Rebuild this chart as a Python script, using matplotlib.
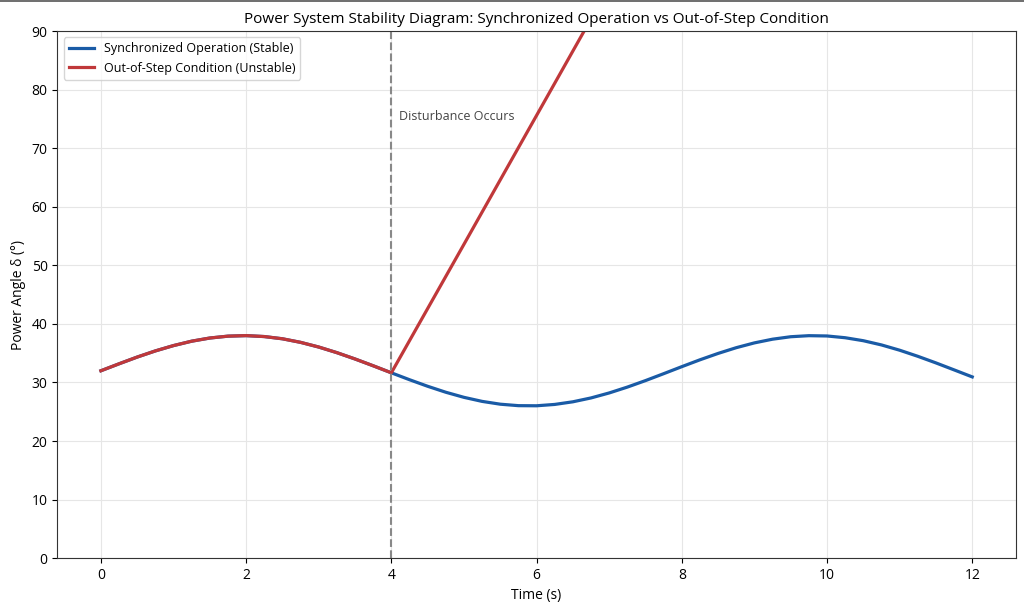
import matplotlib
matplotlib.use("Agg")
import matplotlib.pyplot as plt
from matplotlib.lines import Line2D

plt.rcParams['font.family'] = ['Open Sans', 'DejaVu Sans']

# time axis (s), every 0.25 s
t = [0.0, 0.25, 0.5, 0.75, 1.0, 1.25, 1.5, 1.75, 2.0, 2.25, 2.5, 2.75,
     3.0, 3.25, 3.5, 3.75, 4.0, 4.25, 4.5, 4.75, 5.0, 5.25, 5.5, 5.75,
     6.0, 6.25, 6.5, 6.75, 7.0, 7.25, 7.5, 7.75, 8.0, 8.25, 8.5, 8.75,
     9.0, 9.25, 9.5, 9.75, 10.0, 10.25, 10.5, 10.75, 11.0, 11.25, 11.5,
     11.75, 12.0]
stable = [32.00, 33.19, 34.34, 35.39, 36.30, 37.05, 37.59, 37.91, 38.00,
          37.84, 37.46, 36.85, 36.05, 35.09, 34.01, 32.85, 31.65, 30.47,
          29.35, 28.33, 27.46, 26.77, 26.29, 26.04, 26.02, 26.25, 26.70,
          27.36, 28.21, 29.21, 30.32, 31.50, 32.70, 33.87, 34.96, 35.94,
          36.76, 37.39, 37.81, 37.99, 37.94, 37.64, 37.13, 36.41, 35.51,
          34.47, 33.34, 32.15, 30.95]

# unstable case: same as stable until the disturbance, then runs away
t_unstable = t[:17] + [5.0, 6.0, 7.0, 8.0]
unstable = stable[:17] + [53.6, 75.6, 97.6, 119.6]

t_disturb = 4
label_stable = 'Synchronized Operation (Stable)'
label_unstable = 'Out-of-Step Condition (Unstable)'

fig, ax = plt.subplots(figsize=(10.24, 6.1), dpi=100)
fig.subplots_adjust(left=0.056, right=0.992, top=0.949, bottom=0.085)

ax.plot(t, stable, color='#1a5ba6', lw=2.3, label=label_stable)
ax.plot(t_unstable, unstable, color='#c0383a', lw=2.3, label=label_unstable)
ax.axvline(t_disturb, color='#888888', ls='--', lw=1.5)
ax.text(t_disturb + 0.1, 75.5, 'Disturbance Occurs', fontsize=9, color='#444444', va='center')

ax.set_xlim(-0.6, 12.6)
ax.set_ylim(0, 90)
ax.set_xticks([0, 2, 4, 6, 8, 10, 12])
ax.set_yticks(range(0, 91, 10))
ax.grid(True, color='#e6e6e6', lw=0.8)
ax.set_axisbelow(True)
for s in ax.spines.values():
    s.set_color('#333333')

ax.set_xlabel('Time (s)', fontsize=10)
ax.set_ylabel('Power Angle δ (°)', fontsize=10)
ax.set_title('Power System Stability Diagram: Synchronized Operation vs Out-of-Step Condition', fontsize=11)
ax.tick_params(labelsize=10)
ax.legend(loc='upper left', fontsize=9)

# thin frame line across the top of the figure
fig.add_artist(Line2D([0, 1], [0.998, 0.998], transform=fig.transFigure, color='#555555', lw=1.2))

plt.savefig('out.png', dpi=100)
